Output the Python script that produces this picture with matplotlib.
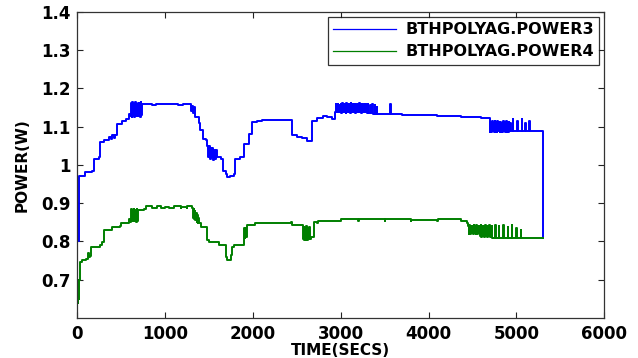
import matplotlib
matplotlib.use("Agg")
import matplotlib.pyplot as plt

# power readings (seconds, watts)
p3_time = [0, 3, 6, 9, 12, 15, 18, 22, 34, 90, 170, 186, 243, 254, 300, 357,
           380, 400, 420, 433, 452, 508, 560, 585,
           604, 612, 620, 628, 636, 644, 652, 660, 668, 676, 684, 692, 700,
           708, 716, 724, 732, 738,
           760, 800, 850, 900, 950, 1000, 1050, 1100, 1150, 1200, 1250, 1290,
           1300, 1310, 1320, 1330, 1345, 1383, 1400, 1430, 1470,
           1480, 1490, 1500, 1510, 1520, 1530, 1540, 1550, 1560, 1570, 1580,
           1593, 1640, 1660, 1690, 1707, 1740, 1783, 1802, 1859, 1897, 1954,
           1992, 2049, 2100, 2200, 2300, 2430, 2448, 2500, 2563, 2619, 2676,
           2733, 2800, 2848, 2900, 2930,
           2945, 2950, 2965, 2970, 2985, 2990, 3000, 3008, 3016, 3024, 3032,
           3040, 3048, 3056, 3064, 3072, 3080, 3088, 3096, 3104, 3112, 3120,
           3128, 3136, 3144, 3152, 3160, 3168, 3176, 3184, 3192, 3200, 3208,
           3216, 3224, 3232, 3240, 3248, 3256, 3264, 3272, 3280, 3288, 3296,
           3310, 3315, 3335, 3340, 3360, 3365, 3390, 3395, 3410, 3414,
           3420, 3560, 3566, 3572, 3700, 3900, 4100, 4367, 4515, 4600, 4690,
           4697, 4705, 4713, 4721, 4729, 4737, 4745, 4753, 4761, 4769, 4777,
           4785, 4793, 4801, 4809, 4817, 4825, 4833, 4841, 4849, 4857, 4865,
           4873, 4881, 4889, 4897, 4905, 4913, 4921, 4929, 4937,
           4960, 4965, 5010, 5015, 5060, 5065, 5100, 5105, 5145, 5150, 5300,
           5302]
p3_watts = [0.80, 0.90, 0.81, 0.89, 0.80, 0.90, 0.82, 0.97, 0.972, 0.981,
            0.985, 1.016, 1.02, 1.059, 1.065, 1.072,
            1.068, 1.078, 1.070, 1.077, 1.107, 1.115, 1.120, 1.133,
            1.128, 1.162, 1.126, 1.163, 1.130, 1.160, 1.125, 1.164, 1.128,
            1.160, 1.127, 1.162, 1.129, 1.161, 1.126, 1.163, 1.130, 1.160,
            1.158, 1.160, 1.157, 1.160, 1.159, 1.160, 1.158, 1.160, 1.157,
            1.160, 1.158, 1.160,
            1.140, 1.155, 1.135, 1.150, 1.124, 1.110, 1.090, 1.068, 1.065,
            1.050, 1.020, 1.048, 1.015, 1.045, 1.020, 1.044, 1.012, 1.040,
            1.015, 1.038, 1.020, 1.016, 0.985, 0.975, 0.968, 0.970, 0.977,
            1.016, 1.020, 1.055, 1.081, 1.111, 1.115, 1.117, 1.118, 1.116,
            1.117, 1.077, 1.072, 1.070, 1.063, 1.115, 1.122, 1.128, 1.125,
            1.120, 1.137,
            1.158, 1.137, 1.160, 1.138, 1.157, 1.137, 1.160, 1.136, 1.161,
            1.137, 1.159, 1.138, 1.160, 1.136, 1.161, 1.137, 1.158, 1.138,
            1.160, 1.136, 1.161, 1.137, 1.159, 1.138, 1.160, 1.137, 1.158,
            1.136, 1.160, 1.137, 1.159, 1.138, 1.161, 1.137, 1.160, 1.136,
            1.158, 1.137, 1.160, 1.138, 1.159, 1.137, 1.160, 1.136,
            1.158, 1.135, 1.157, 1.135, 1.159, 1.134, 1.156, 1.134, 1.150,
            1.133,
            1.133, 1.132, 1.160, 1.132, 1.131, 1.130, 1.128, 1.126, 1.125,
            1.123, 1.122,
            1.085, 1.112, 1.086, 1.115, 1.088, 1.110, 1.085, 1.114, 1.087,
            1.112, 1.086, 1.115, 1.088, 1.111, 1.085, 1.113, 1.087, 1.110,
            1.086, 1.114, 1.088, 1.112, 1.085, 1.115, 1.087, 1.111, 1.086,
            1.113, 1.088, 1.110, 1.088,
            1.120, 1.088, 1.115, 1.088, 1.120, 1.088, 1.110, 1.088, 1.115,
            1.088, 1.088, 0.81]

p4_time = [0, 3, 6, 9, 12, 15, 18, 22, 27, 60, 100, 120, 125, 130, 150, 156,
           262, 281, 300, 395, 400, 490, 495, 585, 590,
           604, 612, 620, 628, 636, 644, 652, 660, 668, 676, 684, 692, 699,
           760, 780, 785, 850, 900, 905, 950, 1000, 1026, 1045, 1100, 1105,
           1180, 1185, 1250, 1255, 1311,
           1318, 1325, 1332, 1339, 1346, 1353, 1360, 1367, 1374, 1381, 1387,
           1406, 1463, 1482, 1501, 1615, 1620, 1672, 1691, 1710, 1730, 1748,
           1767, 1786, 1881, 1900, 1908, 1916, 1924, 1932, 1938, 2014, 2020,
           2200, 2430, 2440, 2563,
           2570, 2578, 2586, 2594, 2602, 2610, 2618, 2626, 2634, 2642, 2650,
           2657, 2695, 2733, 2740, 3000, 3005, 3200, 3205, 3500, 3505, 3800,
           3805, 4100, 4105, 4367, 4443,
           4450, 4458, 4466, 4474, 4482, 4490, 4498, 4506, 4514, 4522, 4530,
           4538, 4546, 4554, 4562, 4570, 4578, 4586, 4594, 4602, 4610, 4618,
           4626, 4634, 4642, 4650, 4658, 4666, 4674, 4682, 4690, 4698, 4706,
           4714, 4722, 4728,
           4760, 4765, 4800, 4805, 4850, 4855, 4900, 4905, 4950, 4955, 5000,
           5005, 5050, 5055, 5300]
p4_watts = [0.63, 0.70, 0.64, 0.69, 0.66, 0.70, 0.65, 0.70, 0.747, 0.752,
            0.755, 0.760, 0.770, 0.760, 0.762, 0.786,
            0.790, 0.799, 0.829, 0.831, 0.838, 0.840, 0.847, 0.850, 0.858,
            0.851, 0.884, 0.853, 0.883, 0.852, 0.884, 0.854, 0.882, 0.851,
            0.884, 0.853, 0.883, 0.883,
            0.885, 0.885, 0.892, 0.887, 0.887, 0.893, 0.888, 0.890, 0.890,
            0.886, 0.886, 0.892, 0.886, 0.891, 0.886, 0.892, 0.886,
            0.862, 0.884, 0.858, 0.880, 0.855, 0.875, 0.850, 0.870, 0.848,
            0.860, 0.847,
            0.838, 0.838, 0.803, 0.799, 0.799, 0.790, 0.790, 0.760, 0.751,
            0.752, 0.764, 0.786, 0.790, 0.790, 0.834, 0.810, 0.835, 0.812,
            0.840, 0.842, 0.842, 0.847,
            0.849, 0.851, 0.842, 0.842,
            0.805, 0.838, 0.803, 0.836, 0.804, 0.840, 0.803, 0.835, 0.805,
            0.838, 0.806,
            0.812, 0.851, 0.849, 0.853, 0.853, 0.859, 0.853, 0.858, 0.853,
            0.859, 0.853, 0.857, 0.853, 0.858, 0.853, 0.848,
            0.840, 0.820, 0.842, 0.818, 0.840, 0.822, 0.841, 0.819, 0.842,
            0.821, 0.840, 0.818, 0.842, 0.820, 0.841, 0.822, 0.840, 0.813,
            0.842, 0.812, 0.841, 0.814, 0.840, 0.812, 0.842, 0.813, 0.841,
            0.812, 0.840, 0.814, 0.842, 0.812, 0.840, 0.813, 0.839, 0.810,
            0.844, 0.810, 0.840, 0.810, 0.844, 0.810, 0.838, 0.810, 0.843,
            0.810, 0.835, 0.810, 0.830, 0.810, 0.810]

x_ticks = [0, 1000, 2000, 3000, 4000, 5000, 6000]
y_ticks = [0.7, 0.8, 0.9, 1.0, 1.1, 1.2, 1.3, 1.4]
y_tick_labels = ['0.7', '0.8', '0.9', '1', '1.1', '1.2', '1.3', '1.4']

plt.rcParams['font.family'] = 'DejaVu Sans'
plt.rcParams['font.weight'] = 'bold'

fig = plt.figure(figsize=(6.38, 3.58), dpi=100)
ax = fig.add_axes([0.121, 0.112, 0.826, 0.855])

ax.plot(p3_time, p3_watts, color='#0000ff', lw=1.4, drawstyle='steps-post',
        label='BTHPOLYAG.POWER3')
ax.plot(p4_time, p4_watts, color='#007f00', lw=1.4, drawstyle='steps-post',
        label='BTHPOLYAG.POWER4')

ax.set_xlim(0, 6000)
ax.set_ylim(0.6, 1.4)
ax.set_xticks(x_ticks)
ax.set_yticks(y_ticks)
ax.set_yticklabels(y_tick_labels)
ax.tick_params(direction='in', length=4, width=0.8, top=True, right=True,
               labelsize=12, colors='#222222', labelcolor='black', pad=5)
for s in ax.spines.values():
    s.set_color('#333333')
    s.set_linewidth(0.9)

ax.set_xlabel('TIME(SECS)', fontsize=11, fontweight='bold', labelpad=0)
ax.set_ylabel('POWER(W)', fontsize=11, fontweight='bold', labelpad=8)

leg = ax.legend(loc='upper right', fontsize=11.5, frameon=True, fancybox=False,
                handlelength=3.9, handletextpad=0.6, borderaxespad=0.3,
                labelspacing=0.45, borderpad=0.35)
leg.get_frame().set_edgecolor('black')
leg.get_frame().set_linewidth(0.9)
for line in leg.get_lines():
    line.set_linewidth(0.9)
for t in leg.get_texts():
    t.set_fontweight('bold')

fig.savefig('out.png', dpi=100)
